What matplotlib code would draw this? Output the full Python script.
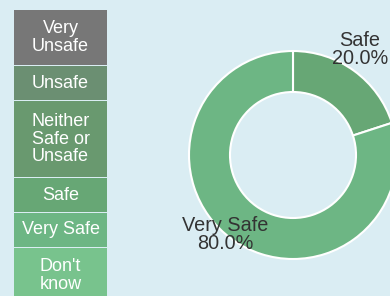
import numpy as np
import matplotlib
matplotlib.use("Agg")
import matplotlib.pyplot as plt
from matplotlib.patches import Rectangle

plt.rcParams['font.family'] = ['Liberation Sans', 'DejaVu Sans']

# legend categories (top to bottom) and their colours
legend_labels = ["Very\nUnsafe", "Unsafe", "Neither\nSafe or\nUnsafe", "Safe", "Very Safe", "Don't\nknow"]
legend_colors = ["#777777", "#6b8f72", "#69996f", "#67a775", "#6db684", "#78c38d"]

# donut data
slice_labels = ["Safe", "Very Safe"]
slice_values = [20.0, 80.0]
slice_colors = ["#67a775", "#6db684"]

bg = "#daedf3"
W, H = 390, 296

fig = plt.figure(figsize=(W / 100, H / 100), dpi=100, facecolor=bg)
ax = fig.add_axes([0, 0, 1, 1])
ax.set_facecolor(bg)

# legend column
x0, bw = 14, 93
line_h, pad = 21, 13
top = 10
for lab, col in zip(legend_labels, legend_colors):
    n = lab.count("\n") + 1
    h = line_h * n + pad
    y_top = H - top
    ax.add_patch(Rectangle((x0, y_top - h), bw, h, facecolor=col, edgecolor="none"))
    ax.text(x0 + bw / 2, y_top - h / 2, lab, ha="center", va="center",
            color="white", fontsize=13, linespacing=1.05)
    top += h + 1

# donut
cx, cy, r = 293, H - 155, 104
wedges, _ = ax.pie(slice_values, colors=slice_colors, startangle=90, counterclock=False,
                   radius=r, center=(cx, cy), frame=True,
                   wedgeprops=dict(width=41, edgecolor="white", linewidth=1.5))

label_dist = [1.25, 0.99]
for w, lab, val, d in zip(wedges, slice_labels, slice_values, label_dist):
    ang = np.deg2rad((w.theta1 + w.theta2) / 2)
    tx = min(cx + d * r * np.cos(ang), W - 30)
    ty = cy + d * r * np.sin(ang)
    if np.cos(ang) < 0:
        tx -= 7
        ty += 4
    ax.text(tx, ty, f"{lab}\n{val:.1f}%", ha="center", va="center",
            color="#333333", fontsize=14.3, linespacing=0.95)

ax.set_xlim(0, W)
ax.set_ylim(0, H)
ax.set_aspect("auto")
ax.axis("off")

fig.savefig("out.png", dpi=100, facecolor=bg)
